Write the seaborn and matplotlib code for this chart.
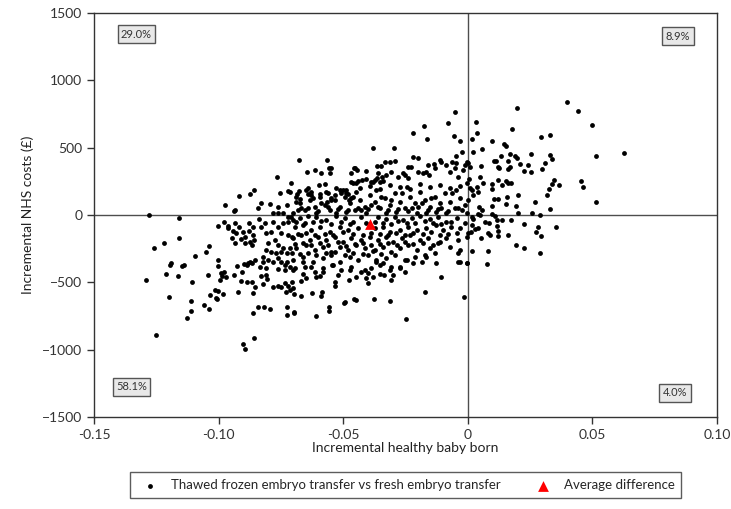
import matplotlib
matplotlib.use("Agg")
import matplotlib.pyplot as plt
import pandas as pd
import seaborn as sns

# incremental healthy baby born (x) vs incremental NHS costs in £ (y)
left_tail = [
    (-0.128, 0), (-0.116, -22), (-0.116, -173), (-0.122, -205), (-0.126, -242), (-0.129, -484),
    (-0.125, -888), (-0.120, -611), (-0.121, -438), (-0.1197, -371), (-0.119, -354), (-0.1165, -451),
    (-0.1146, -376), (-0.1140, -374), (-0.1106, -496), (-0.1093, -305), (-0.1126, -767), (-0.1111, -716),
    (-0.1111, -640), (-0.1059, -670), (-0.1038, -699), (-0.1051, -275), (-0.1038, -228), (-0.1044, -448),
    (-0.1036, -595), (-0.1014, -557), (-0.1003, -562), (-0.1012, -619), (-0.1007, -626), (-0.1002, -332),
    (-0.1003, -376), (-0.1003, -85), (-0.0983, -589), (-0.0990, -433), (-0.0980, -426), (-0.0986, -453),
    (-0.0972, -458), (-0.0996, -483), (-0.0939, -445), (-0.0924, -569), (-0.0911, -490), (-0.0887, -497),
    (-0.0928, -376), (-0.0899, -366), (-0.0882, -354), (-0.0904, -957), (-0.0893, -997), (-0.0979, -50),
    (-0.0974, 74), (-0.0939, 32), (-0.0936, 39), (-0.0917, 138), (-0.0963, -94), (-0.0962, -79),
    (-0.0942, -116), (-0.0935, -61), (-0.0919, -86), (-0.0932, -131), (-0.0903, -123), (-0.0895, -160),
    (-0.0880, -57), (-0.0877, -116), (-0.0864, -148), (-0.0857, -185), (-0.0868, -222), (-0.0948, -173),
    (-0.0935, -210), (-0.0911, -180), (-0.0895, -210), (-0.0875, -198), (-0.0875, -346), (-0.0868, -358),
    (-0.0888, -371), (-0.0908, -420), (-0.0865, -494), (-0.0855, -536), (-0.0861, -581), (-0.0860, -910),
    (-0.0862, -729), (-0.0873, 153), (-0.0857, 183), (-0.0862, -87),
]

mid_left = [
    (-0.0839, -32), (-0.0831, -86), (-0.0828, 87), (-0.0814, -61), (-0.0792, 82), (-0.0761, 62),
    (-0.0752, 161), (-0.0721, 178), (-0.0711, 235), (-0.0727, 74), (-0.0841, 50), (-0.0781, 13),
    (-0.0761, 13), (-0.0741, 13), (-0.0721, -12), (-0.0701, 13), (-0.0781, -49), (-0.0761, -86),
    (-0.0741, -62), (-0.0721, -49), (-0.0701, -37), (-0.0808, -136), (-0.0788, -123), (-0.0750, -136),
    (-0.0721, -148), (-0.0707, -160), (-0.0801, -210), (-0.0774, -185), (-0.0761, -222), (-0.0741, -247),
    (-0.0714, -247), (-0.0808, -259), (-0.0788, -272), (-0.0768, -284), (-0.0748, -272), (-0.0727, -284),
    (-0.0707, -284), (-0.0821, -309), (-0.0801, -334), (-0.0781, -346), (-0.0761, -321), (-0.0748, -346),
    (-0.0727, -346), (-0.0714, -383), (-0.0855, -334), (-0.0835, -383), (-0.0808, -395), (-0.0761, -403),
    (-0.0734, -408), (-0.0828, -450), (-0.0808, -445), (-0.0781, -531), (-0.0761, -526), (-0.0748, -531),
    (-0.0721, -526), (-0.0734, -502), (-0.0714, -556), (-0.0701, -544), (-0.0821, -512), (-0.0841, -680),
    (-0.0818, -685), (-0.0793, -700), (-0.0727, -680), (-0.0726, -740), (-0.0699, -724), (-0.0766, 282),
    (-0.0715, 173), (-0.0806, -478), (-0.0731, -575), (-0.0822, -347), (-0.0735, -371),
]

core_upper = [
    (-0.0051, 767), (-0.0079, 685), (-0.0176, 660), (-0.0222, 606), (-0.0162, 564), (-0.0055, 589),
    (-0.0030, 549), (-0.0379, 494), (-0.0297, 494), (-0.0046, 438), (-0.0022, 467), (-0.0678, 408),
    (-0.0567, 408), (-0.0221, 433), (-0.0200, 425), (-0.0331, 396), (-0.0311, 396), (-0.0293, 400),
    (-0.0113, 408), (-0.0106, 396), (-0.0135, 378), (-0.0063, 391), (-0.0004, 391), (-0.0646, 316),
    (-0.0615, 334), (-0.0591, 309), (-0.0559, 351), (-0.0552, 309), (-0.0470, 314), (-0.0454, 346),
    (-0.0445, 334), (-0.0407, 329), (-0.0363, 366), (-0.0347, 366), (-0.0679, 178), (-0.0641, 198),
    (-0.0628, 173), (-0.0599, 222), (-0.0575, 230), (-0.0561, 166), (-0.0528, 203), (-0.0514, 185),
    (-0.0490, 185), (-0.0481, 156), (-0.0461, 240), (-0.0447, 235), (-0.0423, 259), (-0.0407, 264),
    (-0.0387, 247), (-0.0374, 259), (-0.0360, 309), (-0.0344, 284), (-0.0327, 297), (-0.0307, 321),
    (-0.0280, 284), (-0.0260, 309), (-0.0240, 358), (-0.0200, 321), (-0.0180, 309), (-0.0160, 371),
    (-0.0133, 346), (-0.0089, 371), (-0.0072, 321), (-0.0052, 346), (-0.0039, 284), (-0.0019, 334),
    (-0.0684, 153), (-0.0688, 94), (-0.0674, 118), (-0.0640, 155), (-0.0621, 123), (-0.0594, 153),
    (-0.0567, 94), (-0.0551, 111), (-0.0534, 148), (-0.0500, 185), (-0.0490, 160), (-0.0458, 351),
    (-0.0467, 242), (-0.0476, 111), (-0.0460, 136), (-0.0551, 351), (-0.0230, 356), (-0.0166, 316),
    (-0.0048, 383), (-0.0012, 371), (-0.0380, 242), (-0.0363, 272), (-0.0441, 252), (-0.0353, 242),
    (-0.0340, 252), (-0.0253, 297), (-0.0240, 277), (-0.0155, 297),
]

core_mid = [
    (-0.0688, 136), (-0.0675, 87), (-0.0655, 37), (-0.0635, 111), (-0.0615, 62), (-0.0595, 136),
    (-0.0575, 74), (-0.0554, 37), (-0.0534, 111), (-0.0514, 62), (-0.0494, 136), (-0.0474, 87),
    (-0.0454, 37), (-0.0434, 111), (-0.0414, 62), (-0.0394, 148), (-0.0374, 99), (-0.0354, 49),
    (-0.0334, 124), (-0.0313, 74), (-0.0293, 161), (-0.0273, 99), (-0.0253, 49), (-0.0233, 136),
    (-0.0213, 87), (-0.0193, 173), (-0.0173, 111), (-0.0153, 62), (-0.0133, 136), (-0.0113, 87),
    (-0.0093, 161), (-0.0072, 99), (-0.0052, 49), (-0.0032, 124), (-0.0012, 74),
    (-0.0648, 185), (-0.0608, 12), (-0.0568, 173), (-0.0528, 12), (-0.0488, 25), (-0.0447, 173),
    (-0.0407, 12), (-0.0367, 185), (-0.0327, 12), (-0.0287, 25), (-0.0246, 210), (-0.0206, 12),
    (-0.0166, 12), (-0.0126, 25), (-0.0086, 12), (-0.0046, 185), (-0.0005, 12),
    (-0.0668, 49), (-0.0628, 148), (-0.0588, 87), (-0.0548, 124), (-0.0508, 161), (-0.0467, 124),
    (-0.0427, 37), (-0.0387, 74), (-0.0347, 136), (-0.0307, 111), (-0.0266, 161), (-0.0226, 49),
    (-0.0186, 87), (-0.0146, 124), (-0.0106, 49), (-0.0065, 161), (-0.0025, 37),
    (-0.0681, 40), (-0.0641, 55), (-0.0601, 30), (-0.0561, 60), (-0.0521, 45), (-0.0481, 35),
    (-0.0441, 50), (-0.0401, 42), (-0.0361, 58), (-0.0320, 36), (-0.0280, 48), (-0.0240, 32),
    (-0.0200, 56), (-0.0160, 40), (-0.0120, 44), (-0.0080, 30), (-0.0040, 52),
    (-0.0434, 200), (-0.0394, 215), (-0.0354, 190), (-0.0313, 225), (-0.0273, 205), (-0.0233, 195),
    (-0.0193, 230), (-0.0153, 210), (-0.0113, 220), (-0.0073, 200), (-0.0033, 215),
]

core_lower = [
    (-0.0708, -12), (-0.0675, -24), (-0.0641, -7), (-0.0608, -17), (-0.0568, -37), (-0.0528, -7),
    (-0.0494, -24), (-0.0461, -49), (-0.0427, -12), (-0.0360, -12), (-0.0327, -32), (-0.0293, -17),
    (-0.0260, -37), (-0.0226, -24), (-0.0193, -7), (-0.0153, -32), (-0.0119, -17), (-0.0086, -49),
    (-0.0045, -24), (-0.0012, -61),
    (-0.0688, -55), (-0.0655, -60), (-0.0621, -50), (-0.0588, -45), (-0.0548, -65), (-0.0508, -55),
    (-0.0474, -70), (-0.0407, -60), (-0.0374, -52), (-0.0340, -58), (-0.0307, -66), (-0.0280, -48),
    (-0.0246, -62), (-0.0213, -56), (-0.0173, -44), (-0.0139, -60), (-0.0106, -68), (-0.0066, -52),
    (-0.0695, -86), (-0.0661, -74), (-0.0628, -111), (-0.0595, -86), (-0.0554, -123), (-0.0514, -86),
    (-0.0481, -111), (-0.0441, -99), (-0.0374, -99), (-0.0340, -86), (-0.0313, -123), (-0.0273, -111),
    (-0.0240, -86), (-0.0206, -111), (-0.0166, -99), (-0.0126, -74), (-0.0099, -111), (-0.0066, -91),
    (-0.0032, -99),
    (-0.0681, -140), (-0.0648, -130), (-0.0615, -150), (-0.0575, -138), (-0.0541, -145), (-0.0501, -128),
    (-0.0461, -142), (-0.0421, -150), (-0.0387, -135), (-0.0353, -140), (-0.0320, -146), (-0.0287, -132),
    (-0.0253, -148), (-0.0220, -137), (-0.0180, -143), (-0.0146, -128), (-0.0113, -152), (-0.0079, -140),
    (-0.0045, -135),
    (-0.0702, -173), (-0.0668, -148), (-0.0635, -185), (-0.0601, -160), (-0.0568, -185), (-0.0534, -160),
    (-0.0501, -198), (-0.0467, -173), (-0.0427, -185), (-0.0394, -160), (-0.0360, -185), (-0.0327, -160),
    (-0.0300, -198), (-0.0266, -173), (-0.0233, -148), (-0.0193, -185), (-0.0159, -173), (-0.0113, -198),
    (-0.0086, -173), (-0.0039, -185),
    (-0.0695, -215), (-0.0661, -205), (-0.0628, -225), (-0.0594, -210), (-0.0561, -220), (-0.0521, -200),
    (-0.0487, -228), (-0.0454, -212), (-0.0420, -206), (-0.0387, -222), (-0.0353, -214), (-0.0320, -208),
    (-0.0286, -226), (-0.0253, -202), (-0.0219, -218), (-0.0179, -210), (-0.0139, -224),
    (-0.0688, -247), (-0.0648, -222), (-0.0615, -259), (-0.0581, -235), (-0.0548, -272), (-0.0514, -235),
    (-0.0481, -259), (-0.0447, -222), (-0.0414, -247), (-0.0374, -259), (-0.0340, -235), (-0.0307, -272),
    (-0.0273, -247), (-0.0240, -222), (-0.0206, -259), (-0.0153, -247), (-0.0119, -210), (-0.0072, -235),
    (-0.0032, -259),
    (-0.0675, -290), (-0.0641, -280), (-0.0608, -300), (-0.0568, -285), (-0.0534, -275), (-0.0494, -295),
    (-0.0461, -282), (-0.0421, -290), (-0.0380, -270), (-0.0347, -288),
    (-0.0702, -334), (-0.0661, -309), (-0.0621, -346), (-0.0581, -321), (-0.0548, -296), (-0.0514, -346),
    (-0.0474, -309), (-0.0441, -334), (-0.0400, -296), (-0.0367, -346), (-0.0327, -321), (-0.0293, -296),
    (-0.0253, -334), (-0.0213, -309), (-0.0173, -296), (-0.0126, -358), (-0.0039, -346),
    (-0.0695, -395), (-0.0655, -383), (-0.0615, -420), (-0.0581, -395), (-0.0541, -371), (-0.0508, -408),
    (-0.0467, -383), (-0.0427, -420), (-0.0387, -395), (-0.0353, -371), (-0.0313, -408), (-0.0273, -383),
    (-0.0414, -408), (-0.0400, -428), (-0.0474, -408), (-0.0544, -371), (-0.0581, -421), (-0.0628, -384),
    (-0.0662, -347), (-0.0702, -408), (-0.0246, -334), (-0.0220, -359), (-0.0186, -347), (-0.0166, -309),
    (-0.0133, -285), (-0.0273, -396), (-0.0253, -421), (-0.0340, -359), (-0.0307, -384), (-0.0367, -334),
    (-0.0661, -440), (-0.0594, -455), (-0.0521, -445), (-0.0447, -460), (-0.0354, -438),
    (-0.0249, -774), (-0.0170, -569), (-0.0106, -463), (-0.0016, -611), (-0.0031, -347), (-0.0004, -359),
    (-0.0039, -280), (-0.0378, -624), (-0.0311, -641), (-0.0458, -626), (-0.0450, -631), (-0.0497, -656),
    (-0.0493, -643), (-0.0556, -710), (-0.0557, -685), (-0.0610, -752), (-0.0698, -722), (-0.0584, -569),
    (-0.0668, -601), (-0.0624, -581), (-0.0591, -599), (-0.0699, -586), (-0.0706, -500), (-0.0671, -488),
    (-0.0648, -470), (-0.0608, -463), (-0.0534, -500), (-0.0534, -527), (-0.0477, -483), (-0.0410, -470),
    (-0.0400, -507), (-0.0380, -458), (-0.0338, -448), (-0.0307, -483), (-0.0300, -445),
]

right_side = [
    (0.0396, 836), (0.0443, 774), (0.0196, 796), (0.0499, 668), (0.0031, 688), (0.0038, 606),
    (0.0177, 636), (0.0293, 581), (0.0328, 591), (0.0017, 561), (0.0095, 549), (0.0145, 524),
    (0.0151, 514), (0.0058, 492), (0.0020, 465), (0.0628, 463), (0.0513, 440), (0.0254, 453),
    (0.0171, 453), (0.0189, 440), (0.0196, 420), (0.0328, 443), (0.0336, 413), (0.0131, 438),
    (0.0104, 401), (0.0113, 401), (0.0163, 403), (0.0209, 378), (0.0242, 369), (0.0309, 383),
    (-0.0001, 383), (0.0008, 359), (0.0052, 364), (0.0119, 359), (0.0126, 349), (0.0162, 344),
    (0.0171, 354), (0.0226, 324), (0.0252, 322), (0.0299, 339), (0.0048, 284), (0.0005, 265),
    (0.0060, 240), (0.0122, 260), (0.0098, 228), (0.0095, 191), (0.0153, 252), (0.0162, 235),
    (0.0175, 235), (0.0135, 223), (0.0347, 260), (0.0336, 228), (0.0366, 220), (0.0325, 195),
    (0.0455, 255), (0.0462, 208), (0.0516, 99), (-0.0005, 235), (0.0008, 198), (0.0015, 186),
    (0.0035, 210), (0.0039, 173), (0.0021, 148), (0.0001, 111), (0.0106, 121), (0.0122, 116),
    (0.0158, 136), (0.0200, 146), (0.0319, 146), (0.0271, 96), (0.0154, 82), (0.0095, 67),
    (0.0194, 64), (0.0328, 47), (0.0044, 57), (0.0055, 37), (0.0042, 5), (0.0048, -2),
    (0.0015, -12), (0.0021, -32), (0.0202, 17), (0.0256, 17), (0.0288, -2), (0.0095, 8),
    (0.0109, -7), (0.0135, -37), (0.0175, -37), (0.0118, -37), (0.0068, -54), (0.0084, -62),
    (0.0115, -79), (0.0122, -119), (0.0121, -153), (0.0160, -146), (0.0225, -64), (0.0280, -91),
    (0.0273, -124), (0.0293, -153), (0.0355, -86), (0.0015, -74), (0.0012, -124), (0.0028, -107),
    (0.0042, -99), (0.0001, -131), (-0.0005, -161), (0.0052, -173), (0.0079, -136), (0.0088, -148),
    (0.0015, -267), (0.0080, -265), (0.0194, -225), (0.0226, -245), (0.0290, -282), (0.0076, -366),
    (-0.0005, -358),
]

avg_difference = (-0.0394, -69)

quadrant_labels = ["29.0%", "8.9%", "58.1%", "4.0%"]
quadrant_pos = [(-0.133, 1343), (0.0843, 1328), (-0.135, -1276), (0.0831, -1320)]

x_ticks = [-0.15, -0.10, -0.05, 0, 0.05, 0.10]
x_tick_labels = ["-0.15", "-0.10", "-0.05", "0", "0.05", "0.10"]
y_ticks = [-1500, -1000, -500, 0, 500, 1000, 1500]

sns.set_style("white")
plt.rcParams["font.family"] = ["Lato", "DejaVu Sans"]

points = left_tail + mid_left + core_upper + core_mid + core_lower + right_side
df = pd.DataFrame(points, columns=["qalys", "cost"])
avg = pd.DataFrame([avg_difference], columns=["qalys", "cost"])

fig = plt.figure(figsize=(7.31, 5.09), dpi=100)
ax = fig.add_axes([0.1286, 0.1807, 0.8524, 0.7938])

ax.axhline(0, color="#4d4d4d", lw=1, zorder=1)
ax.axvline(0, color="#4d4d4d", lw=1, zorder=1)

sns.scatterplot(
    data=df, x="qalys", y="cost", ax=ax,
    color="black", s=12, linewidth=0, zorder=3,
    label="Thawed frozen embryo transfer vs fresh embryo transfer"
)
sns.scatterplot(
    data=avg, x="qalys", y="cost", ax=ax,
    color="#ff0000", marker="^", s=60, linewidth=0, zorder=4,
    label="Average difference"
)

ax.set_xlim(-0.15, 0.10)
ax.set_ylim(-1500, 1500)
ax.set_xticks(x_ticks)
ax.set_xticklabels(x_tick_labels)
ax.set_yticks(y_ticks)
ax.tick_params(direction="out", length=5, width=1, colors="#333333",
               labelsize=10, left=True, bottom=True)
for sp in ax.spines.values():
    sp.set_color("#333333")
    sp.set_linewidth(1)

ax.set_xlabel("Incremental healthy baby born", fontsize=10, color="#222222", labelpad=1)
ax.set_ylabel("Incremental NHS costs (£)", fontsize=10, color="#222222", labelpad=6)

for lab, (qx, qy) in zip(quadrant_labels, quadrant_pos):
    ax.text(qx, qy, lab, ha="center", va="center", fontsize=8, color="#333333",
            bbox=dict(boxstyle="square,pad=0.3", facecolor="#e8e8e8", edgecolor="#555555", lw=1))

handles, labels = ax.get_legend_handles_labels()
ax.legend_.remove()
fig.legend(handles, labels, loc="center", bbox_to_anchor=(0.555, 0.047), ncol=2,
           frameon=True, fancybox=False, edgecolor="#333333", fontsize=9.5,
           columnspacing=2.2, handletextpad=0.6, borderpad=0.5, markerscale=1.0)

fig.savefig("out.png", dpi=100)
